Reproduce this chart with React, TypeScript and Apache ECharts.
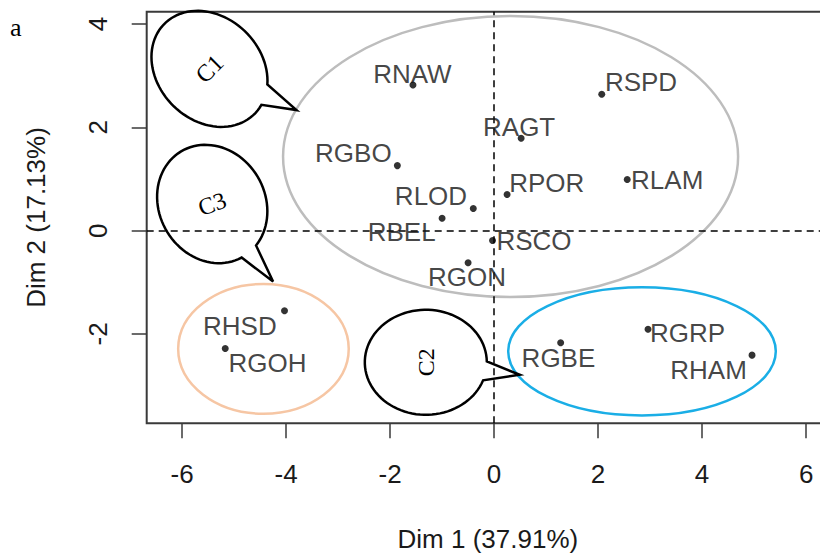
import React, { useEffect, useRef } from "react";
import * as echarts from "echarts";

// ---- data ----
const names = ["RNAW", "RSPD", "RAGT", "RGBO", "RPOR", "RLAM", "RLOD", "RBEL", "RSCO", "RGON", "RHSD", "RGOH", "RGBE", "RGRP", "RHAM"];
const dim1 = [-1.56, 2.07, 0.52, -1.86, 0.25, 2.56, -0.4, -1.0, -0.03, -0.5, -4.03, -5.17, 1.28, 2.96, 4.96];
const dim2 = [2.82, 2.64, 1.79, 1.26, 0.7, 0.99, 0.43, 0.24, -0.19, -0.62, -1.55, -2.28, -2.17, -1.91, -2.41];

const xTicks = [-6, -4, -2, 0, 2, 4, 6];
const yTicks = [-2, 0, 2, 4];

// cluster ellipses (data units)
const ellipseCx = [0.317, -4.435, 2.844];
const ellipseCy = [1.435, -2.288, -2.337];
const ellipseRx = [4.375, 1.64, 2.573];
const ellipseRy = [2.72, 1.257, 1.242];

// callouts
const calloutNames = ["C1", "C3", "C2"];
const calloutCx = [-5.473, -5.42, -1.313];
const calloutCy = [3.133, 0.516, -2.549];
const calloutA = [1.225, 1.175, 1.173];
const calloutB = [0.994, 1.019, 1.01];
const calloutBase1X = [-4.39, -4.569, -0.212];
const calloutBase1Y = [2.838, -0.294, -2.534];
const calloutBase2X = [-4.558, -4.858, -0.242];
const calloutBase2Y = [2.495, -0.515, -2.888];
const calloutTipX = [-3.8, -4.25, 0.494];
const calloutTipY = [2.335, -0.986, -2.791];

// ---- styles ----
const ellipseColors = ["#bdbdbd", "#f6c6a4", "#1aaee6"];
const calloutAxisRot = [45, 60, 0];
const calloutTextRot = [45, 20, 90];
const labelOffsets: [number, number][] = [
  [-0.6, -11.2], [39.3, -12.1], [-2, -11.2], [-44, -12.9], [39.7, -11.8],
  [40, 0.2], [-42.3, -12.8], [-40.4, 14.1], [41.5, 0.3], [-1.1, 14.8],
  [-44.7, 15.1], [42.2, 14.3], [-2.2, 15.6], [39.5, 3.2], [-43.5, 15],
];
const SANS = '"Liberation Sans", Arial, sans-serif';
const SERIF = '"Liberation Serif", "Times New Roman", serif';

export default function App() {
  const ref = useRef<HTMLDivElement>(null);
  useEffect(() => {
    if (!ref.current) return;
    const chart = echarts.init(ref.current, null, { renderer: "svg" });

    const pointData = names.map((n, i) => ({
      value: [dim1[i], dim2[i]],
      name: n,
      label: { offset: labelOffsets[i] },
    }));

    const ellipseData = ellipseCx.map((_, i) => [ellipseCx[i], ellipseCy[i], ellipseRx[i], ellipseRy[i]]);
    const calloutData = calloutNames.map((_, i) => [
      calloutCx[i], calloutCy[i], calloutA[i], calloutB[i],
      calloutBase1X[i], calloutBase1Y[i], calloutBase2X[i], calloutBase2Y[i],
      calloutTipX[i], calloutTipY[i],
    ]);

    const option: any = {
      animation: false,
      backgroundColor: "#ffffff",
      grid: {
        left: 146.7, top: 11.7, right: -9, bottom: 130.7,
        show: true, borderColor: "#3a3a3a", borderWidth: 2, backgroundColor: "transparent",
        containLabel: false,
        outerBoundsMode: "none",
      },
      xAxis: {
        type: "value", min: -6.68, max: 6.44,
        name: "Dim 1 (37.91%)", nameLocation: "middle", nameGap: 103,
        nameTextStyle: { fontSize: 26, fontFamily: SANS, color: "#1a1a1a" },
        axisLine: { show: false, onZero: false },
        splitLine: { show: false },
        axisTick: { show: true, length: 15, customValues: xTicks, lineStyle: { color: "#3a3a3a", width: 1.5 } },
        axisLabel: { customValues: xTicks, margin: 38, fontSize: 26, fontFamily: SANS, color: "#1a1a1a" },
      },
      yAxis: {
        type: "value", min: -3.73, max: 4.24,
        name: "Dim 2 (17.13%)", nameLocation: "middle", nameGap: 98, nameRotate: 90,
        nameTextStyle: { fontSize: 26, fontFamily: SANS, color: "#1a1a1a" },
        axisLine: { show: false, onZero: false },
        splitLine: { show: false },
        axisTick: { show: true, length: 15, customValues: yTicks, lineStyle: { color: "#3a3a3a", width: 1.5 } },
        axisLabel: { customValues: yTicks, rotate: 90, margin: 36, fontSize: 26, fontFamily: SANS, color: "#1a1a1a" },
      },
      graphic: [
        { type: "text", left: 10, top: 14, style: { text: "a", fontSize: 26, fontFamily: SERIF, fill: "#000" } },
      ],
      series: [
        {
          type: "custom",
          name: "clusters",
          z: 1,
          silent: true,
          clip: false,
          data: ellipseData,
          renderItem: (params: any, api: any) => {
            const i = params.dataIndex;
            const c = api.coord([api.value(0), api.value(1)]);
            const s = api.size([1, 1]);
            return {
              type: "ellipse",
              shape: { cx: c[0], cy: c[1], rx: api.value(2) * s[0], ry: api.value(3) * s[1] },
              style: { fill: "none", stroke: ellipseColors[i], lineWidth: 2.5 },
            };
          },
        },
        {
          type: "custom",
          name: "callouts",
          z: 2,
          silent: true,
          clip: false,
          data: calloutData,
          renderItem: (params: any, api: any) => {
            const i = params.dataIndex;
            const c = api.coord([api.value(0), api.value(1)]);
            const sx = api.size([1, 1])[0];
            const a = api.value(2) * sx;
            const b = api.value(3) * sx;
            const phi = (calloutAxisRot[i] * Math.PI) / 180;
            const cp = Math.cos(phi), sp = Math.sin(phi);
            const p1 = api.coord([api.value(4), api.value(5)]);
            const p2 = api.coord([api.value(6), api.value(7)]);
            const tip = api.coord([api.value(8), api.value(9)]);
            const angleOf = (p: number[]) => {
              const dx = p[0] - c[0], dy = p[1] - c[1];
              const u = dx * cp + dy * sp;
              const v = -dx * sp + dy * cp;
              return Math.atan2(v / b, u / a);
            };
            const TWO = Math.PI * 2;
            const mod = (x: number) => ((x % TWO) + TWO) % TWO;
            const t1 = angleOf(p1), t2 = angleOf(p2), tt = angleOf(tip);
            const delta = mod(t2 - t1);
            const tipRel = mod(tt - t1);
            const span = tipRel < delta ? -(TWO - delta) : delta;
            const pts: number[][] = [];
            const N = 90;
            for (let k = 0; k <= N; k++) {
              const t = t1 + (span * k) / N;
              const ux = a * Math.cos(t), vy = b * Math.sin(t);
              pts.push([c[0] + ux * cp - vy * sp, c[1] + ux * sp + vy * cp]);
            }
            pts.push([tip[0], tip[1]]);
            return {
              type: "group",
              children: [
                {
                  type: "polygon",
                  shape: { points: pts },
                  style: { fill: "none", stroke: "#000", lineWidth: 2.5, lineJoin: "miter" },
                },
                {
                  type: "text",
                  x: c[0],
                  y: c[1],
                  rotation: (calloutTextRot[i] * Math.PI) / 180,
                  style: {
                    text: calloutNames[i], x: 0, y: 0,
                    align: "center", verticalAlign: "middle",
                    fontSize: 24, fontFamily: SERIF, fill: "#000",
                  },
                },
              ],
            };
          },
        },
        {
          type: "scatter",
          name: "points",
          z: 5,
          symbol: "circle",
          symbolSize: 7,
          itemStyle: { color: "#000" },
          label: {
            show: true,
            position: "inside",
            formatter: "{b}",
            fontSize: 26,
            fontFamily: SANS,
            color: "#141414",
            align: "center",
            verticalAlign: "middle",
          },
          data: pointData,
          markLine: {
            silent: true,
            symbol: "none",
            label: { show: false },
            lineStyle: { color: "#000", type: [7, 5], width: 1.5 },
            data: [{ xAxis: 0 }, { yAxis: 0 }],
          },
        },
      ],
    };
    chart.setOption(option);
    return () => chart.dispose();
  }, []);

  return (
    <div
      ref={ref}
      style={{ position: "fixed", left: 0, top: 0, width: 820, height: 554, background: "#fff" }}
    />
  );
}
